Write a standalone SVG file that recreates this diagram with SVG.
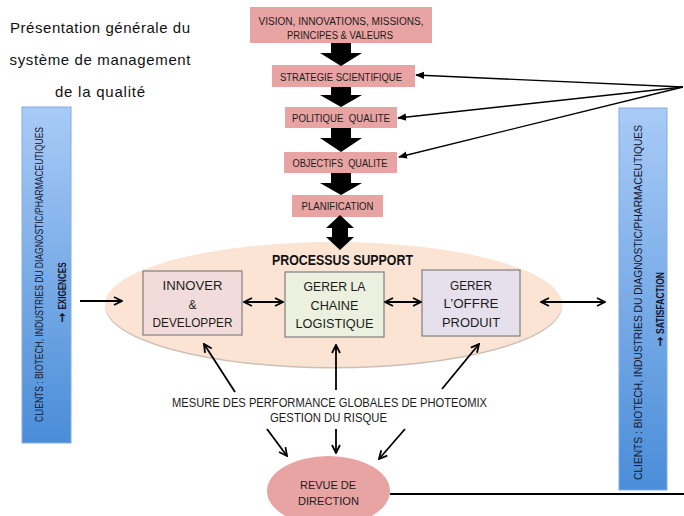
<svg xmlns="http://www.w3.org/2000/svg" width="684" height="516" viewBox="0 0 684 516">
<style>
text{font-family:"Liberation Sans",Arial,sans-serif;fill:#1c1c1c;}
.title{font-size:15px;fill:#111;}
.pk{fill:#E8A3A3;}
.pt{font-size:10px;text-anchor:middle;white-space:pre;}
.bx{stroke:#7f7f7f;stroke-width:1.2;}
.bt{font-size:12px;text-anchor:middle;}
.bar{fill:url(#blue);stroke:#86ACDF;stroke-width:1;}
.vt{font-size:10px;text-anchor:middle;fill:#15152a;}
.vb{font-size:11px;font-weight:bold;text-anchor:middle;fill:#15152a;}
.ar{font-family:"DejaVu Sans",sans-serif;font-size:12px;font-weight:bold;text-anchor:middle;fill:#15152a;}
.ln{stroke:#000;stroke-width:1.8;fill:none;}
.thin{stroke:#000;stroke-width:1.4;fill:none;marker-end:url(#tri);}
.ch{marker-end:url(#chev);}
.dbl{marker-start:url(#chev);marker-end:url(#chev);}
.mt{font-size:12px;text-anchor:middle;}
</style>
<defs>
<linearGradient id="blue" x1="0" y1="0" x2="0" y2="1">
<stop offset="0" stop-color="#A9CBF7"/>
<stop offset="1" stop-color="#4A8DD8"/>
</linearGradient>
<marker id="chev" viewBox="0 0 10 10" refX="9" refY="5" markerWidth="10" markerHeight="10" markerUnits="userSpaceOnUse" orient="auto-start-reverse">
<path d="M1,1 L9,5 L1,9" fill="none" stroke="#000" stroke-width="1.8"/>
</marker>
<marker id="tri" viewBox="0 0 10 10" refX="9" refY="5" markerWidth="9" markerHeight="9" markerUnits="userSpaceOnUse" orient="auto">
<path d="M0,1 L10,5 L0,9 Z" fill="#000"/>
</marker>
</defs>

<g id="title">
<text class="title" x="100" y="33" text-anchor="middle" textLength="180">Présentation générale du</text>
<text class="title" x="100" y="65" text-anchor="middle" textLength="181">système de management</text>
<text class="title" x="100" y="97" text-anchor="middle" textLength="90">de la qualité</text>
</g>

<g id="clients-left">
<rect class="bar" x="22" y="107" width="49" height="336"/>
<text class="vt" transform="translate(43,274.5) rotate(-90)" textLength="295" lengthAdjust="spacingAndGlyphs">CLIENTS : BIOTECH, INDUSTRIES DU DIAGNOSTIC/PHARMACEUTIQUES</text>
<text class="ar" transform="translate(66,318) rotate(-90)">→</text>
<text class="vb" transform="translate(66,286) rotate(-90)" textLength="47" lengthAdjust="spacingAndGlyphs">EXIGENCES</text>
</g>

<g id="clients-right">
<rect class="bar" x="619" y="108" width="48" height="382"/>
<text class="vt" style="font-size:11px" transform="translate(642,302.5) rotate(-90)" textLength="355" lengthAdjust="spacingAndGlyphs">CLIENTS : BIOTECH, INDUSTRIES DU DIAGNOSTIC/PHARMACEUTIQUES</text>
<text class="ar" transform="translate(664,342) rotate(-90)">→</text>
<text class="vb" transform="translate(664,303) rotate(-90)" textLength="62" lengthAdjust="spacingAndGlyphs">SATISFACTION</text>
</g>

<g id="processus">
<ellipse cx="333.5" cy="306" rx="228.5" ry="62.5" fill="#CDBFB6"/>
<ellipse cx="333.5" cy="304.5" rx="228.5" ry="62.5" fill="#FCE4D5"/>
<text x="342.5" y="265" style="font-size:14px;font-weight:bold;text-anchor:middle;fill:#111" textLength="141" lengthAdjust="spacingAndGlyphs">PROCESSUS SUPPORT</text>
</g>

<g id="vision">
<rect class="pk" x="250" y="7" width="182" height="36"/>
<text class="pt" x="341" y="25" textLength="165" lengthAdjust="spacingAndGlyphs">VISION, INNOVATIONS, MISSIONS,</text>
<text class="pt" x="340" y="39" textLength="106" lengthAdjust="spacingAndGlyphs">PRINCIPES &amp; VALEURS</text>
</g>
<g id="strategie">
<rect class="pk" x="272" y="65" width="143" height="22"/>
<text class="pt" x="341" y="80.5" textLength="122" lengthAdjust="spacingAndGlyphs">STRATEGIE SCIENTIFIQUE</text>
</g>
<g id="politique">
<rect class="pk" x="285" y="107" width="112" height="21"/>
<text class="pt" x="341" y="121.5" textLength="98" lengthAdjust="spacingAndGlyphs">POLITIQUE  QUALITE</text>
</g>
<g id="objectifs">
<rect class="pk" x="284" y="152" width="113" height="21"/>
<text class="pt" x="340" y="166.5" textLength="95" lengthAdjust="spacingAndGlyphs">OBJECTIFS  QUALITE</text>
</g>
<g id="planification">
<rect class="pk" x="292" y="195" width="91" height="22"/>
<text class="pt" x="337.5" y="210" textLength="72" lengthAdjust="spacingAndGlyphs">PLANIFICATION</text>
</g>

<g id="innover">
<rect class="bx" x="143" y="271" width="99" height="64" fill="#F2DCDB"/>
<text class="bt" x="192.5" y="290" textLength="60" lengthAdjust="spacingAndGlyphs">INNOVER</text>
<text class="bt" x="192.5" y="309">&amp;</text>
<text class="bt" x="192.5" y="327" textLength="80" lengthAdjust="spacingAndGlyphs">DEVELOPPER</text>
</g>
<g id="chaine">
<rect class="bx" x="285" y="272" width="99" height="65" fill="#EBF1DE"/>
<text class="bt" x="334.5" y="291" textLength="62" lengthAdjust="spacingAndGlyphs">GERER LA</text>
<text class="bt" x="334.5" y="310" textLength="48" lengthAdjust="spacingAndGlyphs">CHAINE</text>
<text class="bt" x="334.5" y="328" textLength="78" lengthAdjust="spacingAndGlyphs">LOGISTIQUE</text>
</g>
<g id="offre">
<rect class="bx" x="422" y="270" width="98" height="66" fill="#E5E0EC"/>
<text class="bt" x="471" y="290" textLength="42" lengthAdjust="spacingAndGlyphs">GERER</text>
<text class="bt" x="471" y="308" textLength="55" lengthAdjust="spacingAndGlyphs">L’OFFRE</text>
<text class="bt" x="471" y="327" textLength="58" lengthAdjust="spacingAndGlyphs">PRODUIT</text>
</g>

<g id="mesure">
<text class="mt" x="329.5" y="407" textLength="315" lengthAdjust="spacingAndGlyphs">MESURE DES PERFORMANCE GLOBALES DE PHOTEOMIX</text>
<text class="mt" x="328.5" y="422" textLength="117" lengthAdjust="spacingAndGlyphs">GESTION DU RISQUE</text>
</g>

<g id="revue">
<ellipse cx="328.5" cy="491" rx="61.5" ry="35" fill="#E8A3A3"/>
<text class="bt" style="font-size:11px" x="328" y="489" textLength="56" lengthAdjust="spacingAndGlyphs">REVUE DE</text>
<text class="bt" style="font-size:11px" x="328.5" y="505" textLength="61" lengthAdjust="spacingAndGlyphs">DIRECTION</text>
</g>

<g id="connectors">
<polygon points="331,43 351,43 351,53 362,53 341,66 320,53 331,53" fill="#000"/>
<polygon points="331,87 351,87 351,95 362,95 341,107 320,95 331,95" fill="#000"/>
<polygon points="331,128 351,128 351,138 362,138 341,152 320,138 331,138" fill="#000"/>
<polygon points="331,173 351,173 351,183 362,183 341,195 320,183 331,183" fill="#000"/>
<polygon points="340,215 354,228 348,228 348,237 354,237 340,250 326,237 332,237 332,228 326,228" fill="#000"/>
<line class="thin" x1="683" y1="87" x2="416" y2="75"/>
<line class="thin" x1="683" y1="87" x2="398" y2="118"/>
<line class="thin" x1="683" y1="87" x2="399" y2="157"/>
<line class="ln ch" x1="80" y1="301" x2="122" y2="301"/>
<line class="ln dbl" x1="244" y1="302" x2="283" y2="302"/>
<line class="ln dbl" x1="385" y1="302" x2="421" y2="302"/>
<line class="ln dbl" x1="541" y1="302" x2="605" y2="302"/>
<line class="ln ch" x1="235" y1="392" x2="204" y2="344"/>
<line class="ln ch" x1="336" y1="390" x2="336" y2="345"/>
<line class="ln ch" x1="442" y1="389" x2="479" y2="344"/>
<line class="ln ch" x1="267" y1="429" x2="287" y2="456"/>
<line class="ln ch" x1="336" y1="429" x2="336" y2="453"/>
<line class="ln ch" x1="405" y1="429" x2="379" y2="459"/>
<line x1="390" y1="494" x2="684" y2="494" stroke="#000" stroke-width="2"/>
</g>
</svg>
